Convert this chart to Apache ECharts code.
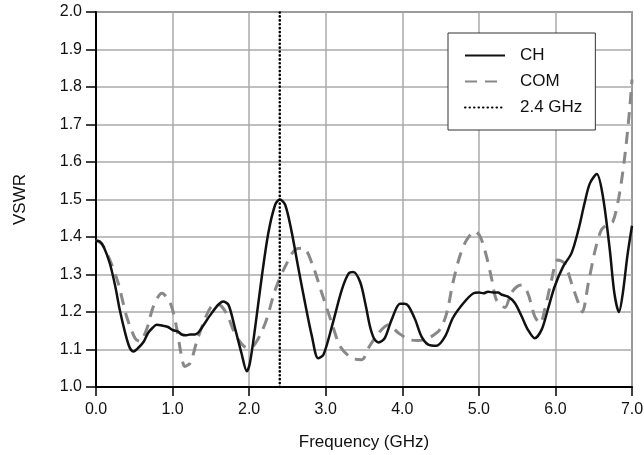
<!DOCTYPE html>
<html>
<head>
<meta charset="utf-8">
<script src="https://cdn.jsdelivr.net/npm/echarts@6/dist/echarts.min.js"></script>
<style>
  html, body { margin: 0; padding: 0; background: #fff; }
  #main { width: 644px; height: 455px; }
</style>
</head>
<body>
<div id="main"></div>
<script>
// values
var markerFreq = 2.4;

var chFreq = [0, 0.05, 0.1, 0.18, 0.25, 0.31, 0.38, 0.44, 0.49, 0.55, 0.62, 0.68, 0.74, 0.79, 0.88, 0.94, 1.0, 1.07, 1.12, 1.18, 1.23, 1.29, 1.34, 1.42, 1.51, 1.6, 1.66, 1.73, 1.81, 1.9, 1.97, 2.01, 2.08, 2.16, 2.25, 2.34, 2.4, 2.47, 2.55, 2.64, 2.73, 2.82, 2.9, 2.97, 3.08, 3.21, 3.3, 3.36, 3.45, 3.52, 3.58, 3.63, 3.69, 3.77, 3.86, 3.97, 4.03, 4.08, 4.17, 4.25, 4.34, 4.45, 4.56, 4.66, 4.8, 4.93, 5.0, 5.06, 5.12, 5.19, 5.25, 5.3, 5.38, 5.47, 5.56, 5.64, 5.73, 5.82, 5.9, 5.99, 6.1, 6.21, 6.3, 6.38, 6.45, 6.54, 6.62, 6.71, 6.77, 6.83, 6.88, 6.94, 7.0];
var chVswr = [1.39, 1.388, 1.374, 1.33, 1.27, 1.206, 1.145, 1.105, 1.095, 1.104, 1.12, 1.144, 1.158, 1.166, 1.163, 1.16, 1.152, 1.148, 1.14, 1.138, 1.14, 1.14, 1.146, 1.17, 1.197, 1.22, 1.228, 1.219, 1.161, 1.09, 1.042, 1.064, 1.161, 1.286, 1.41, 1.486, 1.5, 1.486, 1.419, 1.32, 1.224, 1.135, 1.077, 1.086, 1.161, 1.259, 1.303, 1.307, 1.28, 1.22, 1.16, 1.13, 1.119, 1.13, 1.179, 1.222, 1.222, 1.216, 1.179, 1.135, 1.113, 1.11, 1.135, 1.184, 1.224, 1.25, 1.252, 1.25, 1.254, 1.252, 1.252, 1.246, 1.241, 1.224, 1.188, 1.153, 1.13, 1.153, 1.206, 1.268, 1.321, 1.357, 1.419, 1.49, 1.543, 1.568, 1.508, 1.366, 1.25, 1.2, 1.25, 1.35, 1.43];

var comFreq = [0, 0.08, 0.18, 0.29, 0.4, 0.51, 0.57, 0.66, 0.75, 0.86, 0.97, 1.05, 1.11, 1.16, 1.23, 1.31, 1.4, 1.49, 1.57, 1.64, 1.72, 1.79, 1.86, 1.97, 2.05, 2.21, 2.34, 2.47, 2.6, 2.71, 2.82, 2.95, 3.08, 3.19, 3.34, 3.47, 3.57, 3.69, 3.82, 3.95, 4.1, 4.21, 4.34, 4.49, 4.58, 4.66, 4.75, 4.84, 4.95, 5.02, 5.1, 5.17, 5.23, 5.34, 5.42, 5.5, 5.56, 5.64, 5.73, 5.8, 5.86, 5.95, 6.03, 6.12, 6.21, 6.3, 6.35, 6.43, 6.52, 6.6, 6.67, 6.75, 6.83, 6.9, 6.96, 7.0];
var comVswr = [1.392, 1.38, 1.339, 1.277, 1.188, 1.13, 1.122, 1.153, 1.215, 1.25, 1.224, 1.161, 1.09, 1.055, 1.064, 1.117, 1.17, 1.21, 1.222, 1.215, 1.19, 1.153, 1.126, 1.105, 1.108, 1.17, 1.259, 1.321, 1.366, 1.37, 1.33, 1.25, 1.17, 1.108, 1.077, 1.073, 1.108, 1.144, 1.166, 1.144, 1.126, 1.124, 1.13, 1.153, 1.197, 1.277, 1.348, 1.392, 1.415, 1.4, 1.348, 1.286, 1.232, 1.212, 1.25, 1.268, 1.272, 1.25, 1.188, 1.17, 1.206, 1.286, 1.339, 1.33, 1.277, 1.224, 1.2, 1.277, 1.366, 1.419, 1.432, 1.441, 1.508, 1.605, 1.72, 1.82];

function pairs(xs, ys) {
    var out = [];
    for (var i = 0; i < xs.length; i++) out.push([xs[i], ys[i]]);
    return out;
}

var myChart = echarts.init(document.getElementById('main'));
var font = "'Liberation Sans', Arial, sans-serif";

var option = {
    animation: false,
    backgroundColor: '#fff',
    textStyle: { fontFamily: font },
    grid: {
        left: 96, right: 12, top: 12, bottom: 68,
        outerBoundsMode: 'none',
        containLabel: false,
        show: true, borderColor: '#444', borderWidth: 1.5
    },
    legend: {
        orient: 'vertical',
        left: 448, top: 33,
        padding: [14, 13, 14, 16],
        itemWidth: 40, itemHeight: 14, itemGap: 9,
        backgroundColor: '#fff',
        borderColor: '#333', borderWidth: 1,
        borderRadius: 0,
        itemStyle: { opacity: 0 },
        textStyle: { fontSize: 17, color: '#111', fontFamily: font, padding: [0, 0, 0, 10] },
        data: [
            { name: 'CH' },
            { name: 'COM' },
            { name: '2.4 GHz', lineStyle: { width: 2, type: [0.5, 4], cap: 'round' } }
        ]
    },
    xAxis: {
        type: 'value',
        min: 0, max: 7, interval: 1,
        name: 'Frequency (GHz)',
        nameLocation: 'middle',
        nameGap: 47,
        nameTextStyle: { fontSize: 17, color: '#111', fontFamily: font },
        axisLine: { lineStyle: { color: '#000', width: 2 } },
        axisTick: { length: 9, lineStyle: { color: '#000', width: 1.5 } },
        axisLabel: {
            margin: 15, fontSize: 16, color: '#111', fontFamily: font,
            formatter: function (v) { return v.toFixed(1); }
        },
        splitLine: { show: true, lineStyle: { color: '#aaa', width: 1.5 } }
    },
    yAxis: {
        type: 'value',
        min: 1.0, max: 2.0, interval: 0.1,
        name: 'VSWR',
        nameLocation: 'middle',
        nameGap: 67,
        nameTextStyle: { fontSize: 17, color: '#111', fontFamily: font },
        axisLine: { show: true, lineStyle: { color: '#000', width: 2 } },
        axisTick: { show: true, length: 10, lineStyle: { color: '#000', width: 1.5 } },
        axisLabel: {
            margin: 14, fontSize: 16, color: '#111', fontFamily: font,
            formatter: function (v) { return v.toFixed(1); }
        },
        splitLine: { show: true, lineStyle: { color: '#aaa', width: 1.5 } }
    },
    series: [
        {
            name: 'CH',
            type: 'line',
            data: pairs(chFreq, chVswr),
            smooth: 0.3,
            showSymbol: false, symbol: 'none',
            lineStyle: { color: '#111', width: 2.5 },
            itemStyle: { color: '#111' },
            z: 4
        },
        {
            name: 'COM',
            type: 'line',
            data: pairs(comFreq, comVswr),
            smooth: 0.3,
            showSymbol: false, symbol: 'none',
            lineStyle: { color: '#888', width: 3, type: [12, 8] },
            itemStyle: { color: '#888' },
            z: 3
        },
        {
            name: '2.4 GHz',
            type: 'line',
            data: [[markerFreq, 1.0], [markerFreq, 2.0]],
            showSymbol: false, symbol: 'none',
            lineStyle: { color: '#000', width: 2.6, type: [0.1, 3.8], cap: 'round' },
            itemStyle: { color: '#000' },
            z: 5
        }
    ]
};

myChart.setOption(option);
</script>
</body>
</html>
